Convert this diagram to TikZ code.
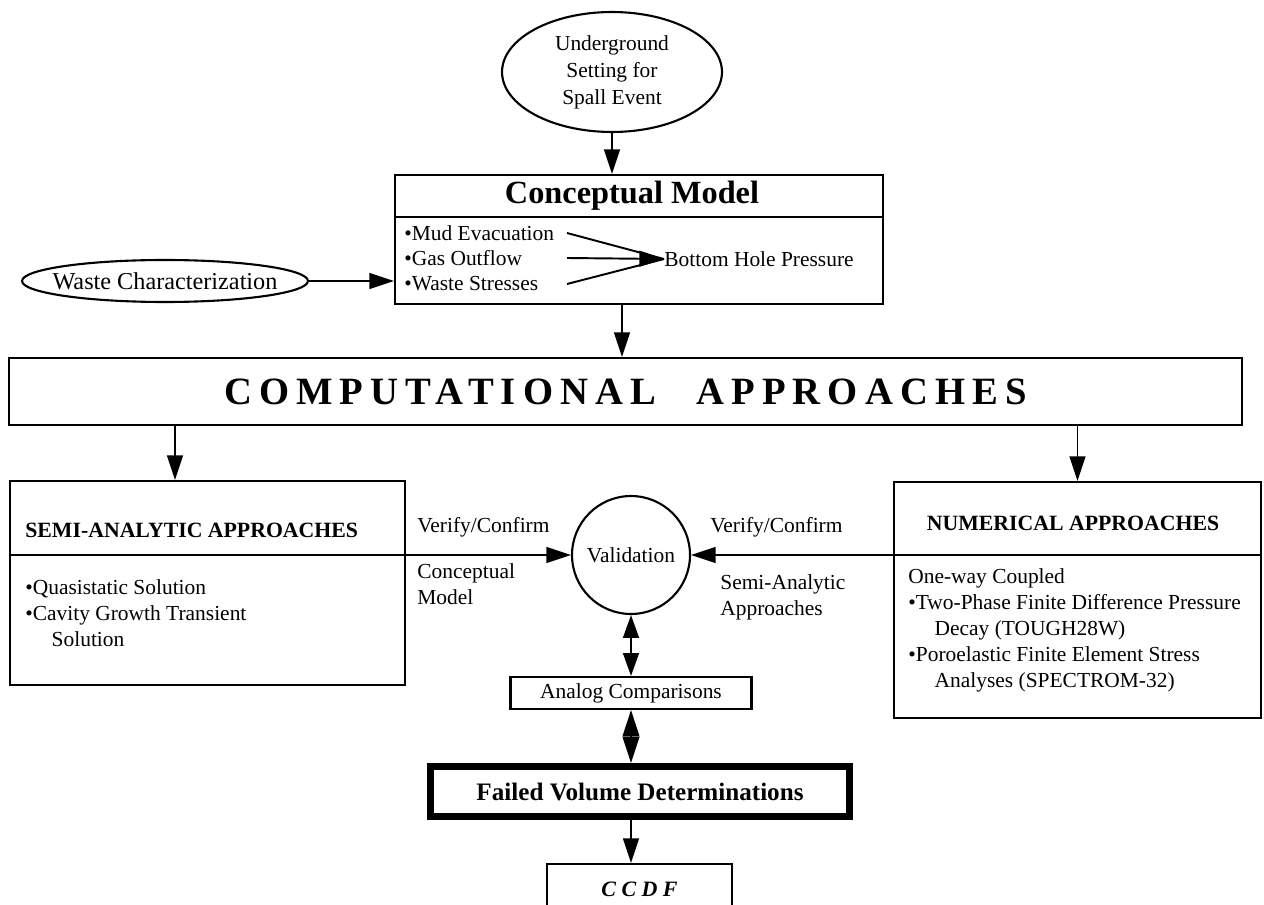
\documentclass[tikz,border=0pt]{standalone}
\usepackage{fontspec}
\setmainfont{Liberation Serif}
\usetikzlibrary{arrows.meta}
\usetikzlibrary{shapes.geometric}
\newcommand{\bodyfont}{\fontsize{12.2}{14.9}\selectfont}
\tikzset{
plainbox/.style={draw, line width=1.2pt, inner sep=0pt},
oval/.style={draw, ellipse, line width=1.2pt, inner sep=0pt, align=center},
txt/.style={inner sep=0pt, align=left, font=\bodyfont},
arr/.style={line width=1.1pt, -{Triangle[length=14pt,width=9pt]}},
twoway/.style={line width=1.1pt, {Triangle[length=13pt,width=9pt]}-{Triangle[length=13pt,width=9pt]}}}

\begin{document}
\begin{tikzpicture}[x=0.02cm, y=-0.02cm]

                \useasboundingbox (0,0) rectangle (1264,905);

                \node[oval, minimum width=4.4cm, minimum height=2.4cm, font=\fontsize{12.2}{15.3}\selectfont] (underground) at (612,72) {Underground\\Setting for\\Spall Event};
                \node[oval, minimum width=5.72cm, minimum height=0.84cm, inner xsep=-0.4cm, font=\fontsize{13.8}{15}\selectfont] (waste) at (165,281) {Waste Characterization};

                \node[plainbox, minimum width=9.76cm, minimum height=2.58cm] (concept) at (639,239.5) {};
                \node[font=\fontsize{18.4}{20}\selectfont\bfseries] (concepttitle) at (632,196) {Conceptual Model};
                \coordinate (csep) at (0,217);
                \draw[line width=1.2pt] (concept.west |- csep) -- (concept.east |- csep);
                \node[txt, anchor=west] (mud) at (404,233) {•Mud Evacuation};
                \node[txt, anchor=west] (gas) at (404,258) {•Gas Outflow};
                \node[txt, anchor=west] (wstress) at (404,284) {•Waste Stresses};
                \node[txt, anchor=west] (bhp) at (664,259) {Bottom Hole Pressure};
                \coordinate (lstart) at (567,0);
                \draw[line width=1.1pt] (mud.east -| lstart) -- (bhp.west);
                \draw[line width=1.1pt] (wstress.east -| lstart) -- (bhp.west);
                \draw[arr] (gas.east -| lstart) -- (bhp.west);

                \node[plainbox, minimum width=24.66cm, minimum height=1.34cm, font=\fontsize{22}{24}\selectfont\bfseries\addfontfeatures{LetterSpace=18.5}] (comp) at (625.5,391.5) {COMPUTATIONAL\hspace{0.6em} APPROACHES};

                \node[plainbox, minimum width=7.9cm, minimum height=4.08cm] (semi) at (207.5,583) {};
                \node[anchor=west, inner sep=0pt, font=\fontsize{12.4}{15}\selectfont\bfseries] (semihead) at (25,530) {SEMI-ANALYTIC APPROACHES};
                \node[txt, anchor=north west] (semibody) at (25,579) {•Quasistatic Solution\\•Cavity Growth Transient\\\hspace*{15pt}Solution};

                \node[plainbox, minimum width=7.34cm, minimum height=4.72cm] (numer) at (1077.5,600) {};
                \node[inner sep=0pt, font=\fontsize{12.4}{15}\selectfont\bfseries] (numhead) at (1073,523) {NUMERICAL APPROACHES};
                \node[txt, anchor=north west] (numbody) at (908,568) {One-way Coupled\\•Two-Phase Finite Difference Pressure\\\hspace*{15pt}Decay (TOUGH28W)\\•Poroelastic Finite Element Stress\\\hspace*{15pt}Analyses (SPECTROM-32)};

                \node[draw, circle, line width=1.2pt, minimum size=2.36cm, inner sep=0pt, font=\bodyfont] (valid) at (631,555) {Validation};
                \node[txt, anchor=west] (vcleft) at (417,527) {Verify/Confirm};
                \node[txt, anchor=north west] (cmodel) at (417,563) {Conceptual\\Model};
                \node[txt, anchor=west] (vcright) at (710,527) {Verify/Confirm};
                \node[txt, anchor=north west] (semiappr) at (720,574) {Semi-Analytic\\Approaches};

                \node[plainbox, minimum width=4.82cm, minimum height=0.64cm, font=\bodyfont] (analog) at (631,693) {Analog Comparisons};
                \node[draw, line width=4pt, minimum width=8.38cm, minimum height=1.0cm, inner sep=0pt, font=\fontsize{14.3}{16}\selectfont\bfseries] (failed) at (640,791.5) {Failed Volume Determinations};
                \node[plainbox, anchor=north, minimum width=3.7cm, minimum height=1.0cm, font=\fontsize{12.5}{14}\selectfont\bfseries\itshape\addfontfeatures{LetterSpace=25}] (ccdf) at (639.5,863) {CCDF};

                \coordinate (cx) at (622,0);
                \coordinate (lx) at (175,0);
                \draw[arr] (underground.south) -- (underground.south |- concept.north);
                \draw[arr] (waste.east) -- (waste.east -| concept.west);
                \draw[arr] (cx |- concept.south) -- (cx |- comp.north);
                \draw[arr] (lx |- comp.south) -- (lx |- semi.north);
                \draw[arr] (numer.north |- comp.south) -- (numer.north);
                \draw[arr] (semi.west |- valid.west) -- (valid.west);
                \draw[arr] (numer.east |- valid.east) -- (valid.east);
                \draw[twoway] (valid.south) -- (valid.south |- analog.north);
                \draw[line width=1.1pt, {Triangle[length=15pt,width=9.5pt]}-{Triangle[length=15pt,width=9.5pt]}] (analog.south) -- (analog.south |- failed.north);
                \draw[arr] (analog.south |- failed.south) -- (analog.south |- ccdf.north);

            \end{tikzpicture}
\end{document}
